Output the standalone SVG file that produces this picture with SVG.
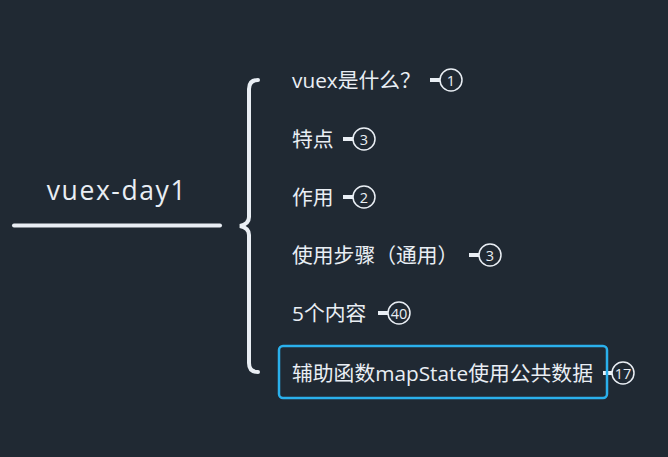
<svg xmlns="http://www.w3.org/2000/svg" width="668" height="457" viewBox="0 0 668 457">
<style>
.bg{fill:#202933}
.t{font-family:"Open Sans","Noto Sans CJK SC",sans-serif;font-size:20.8px;fill:#e9eef4;dominant-baseline:central}
.root{font-family:"Open Sans","Noto Sans CJK SC",sans-serif;font-size:26.5px;letter-spacing:1.6px;fill:#e9eef4;text-anchor:middle}
.line{stroke:#e9eef4;fill:none;stroke-linecap:round}
.stub{stroke:#e9eef4;stroke-width:4}
.badge{fill:none;stroke:#e9eef4;stroke-width:1.5}
.num{font-family:"Open Sans","Liberation Sans",sans-serif;font-size:14.5px;fill:#e9eef4;text-anchor:middle;dominant-baseline:central}
.sel{fill:none;stroke:#2ab0ec;stroke-width:2.5}
</style>
<rect class="bg" x="0" y="0" width="668" height="457"/>
<g id="connectors">
<line class="line" x1="14" y1="225.5" x2="220" y2="225.5" stroke-width="4" stroke-linecap="butt"/>
<path class="line" stroke-width="4" d="M258 80 Q249 80 249 89 L249 217 Q249 224 240 226 Q249 228 249 235 L249 363 Q249 372 258 372"/>
<line class="stub" x1="430" y1="80" x2="440" y2="80"/>
<line class="stub" x1="343" y1="139" x2="353" y2="139"/>
<line class="stub" x1="343" y1="197" x2="353" y2="197"/>
<line class="stub" x1="469" y1="255" x2="479" y2="255"/>
<line class="stub" x1="378" y1="313" x2="388" y2="313"/>
<line class="stub" x1="603" y1="373" x2="612" y2="373"/>
</g>
<g id="root"><text class="root" x="117" y="200">vuex-day1</text></g>
<g id="n1"><text class="t" x="292" y="80">vuex是什么？</text><circle class="badge" cx="451" cy="80" r="11"/><text class="num" x="451" y="80">1</text></g>
<g id="n2"><text class="t" x="292" y="139">特点</text><circle class="badge" cx="364" cy="139" r="11"/><text class="num" x="364" y="139">3</text></g>
<g id="n3"><text class="t" x="292" y="197">作用</text><circle class="badge" cx="364" cy="197" r="11"/><text class="num" x="364" y="197">2</text></g>
<g id="n4"><text class="t" x="292" y="255">使用步骤（通用）</text><circle class="badge" cx="490" cy="255" r="11"/><text class="num" x="490" y="255">3</text></g>
<g id="n5"><text class="t" x="292" y="313">5个内容</text><circle class="badge" cx="399" cy="313" r="11"/><text class="num" x="399" y="313">40</text></g>
<g id="n6"><rect class="sel" x="279" y="346" width="328" height="52" rx="4"/><text class="t" x="292" y="373">辅助函数mapState使用公共数据</text><circle class="badge" cx="623" cy="373" r="11"/><text class="num" x="623" y="373">17</text></g>
</svg>
